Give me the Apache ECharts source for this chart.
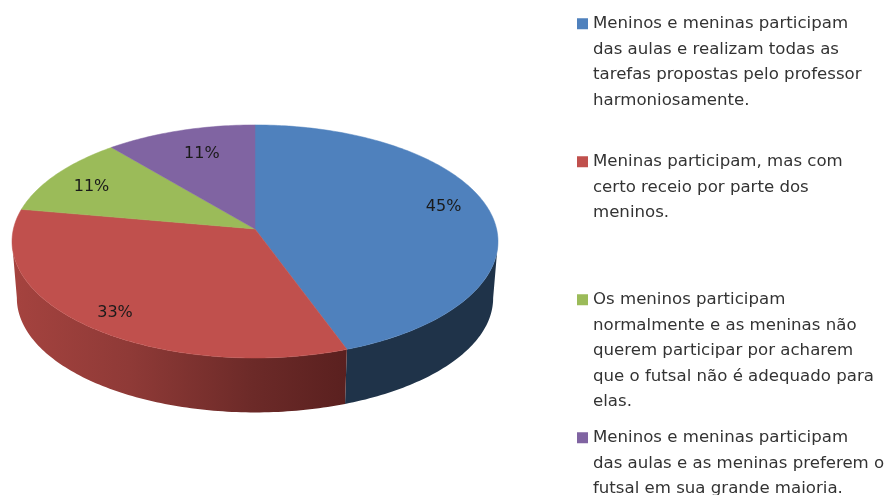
<!DOCTYPE html>
<html lang="pt-BR" style="height: 100%">
<head>
  <meta charset="utf-8">
</head>
<body style="height: 100%; margin: 0; background: #fff">
  <div id="container" style="height: 100%; filter: blur(0.4px)"></div>

  <script type="text/javascript" src="https://fastly.jsdelivr.net/npm/echarts@6/dist/echarts.min.js"></script>
  <script type="text/javascript">
    // data
    var sliceValues = [44.4, 33.3, 11.1, 11.1];
    var sliceLabels = ['45%', '33%', '11%', '11%'];
    var legendLines = [
      ['Meninos e meninas participam', 'das aulas e realizam todas as', 'tarefas propostas pelo professor', 'harmoniosamente.'],
      ['Meninas participam, mas com', 'certo receio por parte dos', 'meninos.'],
      ['Os meninos participam', 'normalmente e as meninas não', 'querem participar por acharem', 'que o futsal não é adequado para', 'elas.'],
      ['Meninos e meninas participam', 'das aulas e as meninas preferem o', 'futsal em sua grande maioria.']
    ];
    var sliceColors = ['#4f81bd', '#c0504d', '#9bbb59', '#8064a2'];
    var categories = legendLines.map(function (l) { return l.join(' '); });

    // pie geometry: tilted disc with a little perspective
    var cx = 255, cy = 229, rx = 241.6, ry = 115.2, persp = 0.107;
    var wallDrop = 57, wallScale = 0.98;
    var wallFrom = 96, wallTo = 264; // silhouette of the disc, in degrees clockwise from top
    var labelRadius = 0.8;
    var labelShift = [[1, -6], [-7, 8], [-3, 2], [8, 5]];

    var total = sliceValues.reduce(function (a, b) { return a + b; }, 0);

    function project(deg, r, scale, drop) {
      var a = deg * Math.PI / 180;
      var u = Math.sin(a) * r, v = -Math.cos(a) * r;
      var w = 1 - persp * v;
      return [cx + scale * rx * u / w, cy + drop + scale * ry * v / w];
    }

    function arc(from, to, scale, drop) {
      var pts = [];
      var n = Math.max(2, Math.ceil(Math.abs(to - from)));
      for (var i = 0; i <= n; i++) {
        pts.push(project(from + (to - from) * i / n, 1, scale, drop));
      }
      return pts;
    }

    function wallFill(i) {
      if (i === 0) {
        return '#1f3349';
      }
      return new echarts.graphic.LinearGradient(0, 0, 1, 0, [
        { offset: 0, color: '#a5433f' },
        { offset: 0.35, color: '#8f3a37' },
        { offset: 0.72, color: '#6c2a28' },
        { offset: 1, color: '#5a201f' }
      ]);
    }

    function sliceRenderer(i) {
      var before = sliceValues.slice(0, i).reduce(function (a, b) { return a + b; }, 0);
      var start = before / total * 360;
      var end = (before + sliceValues[i]) / total * 360;
      return function () {
        var children = [];
        var wa = Math.max(start, wallFrom), wb = Math.min(end, wallTo);
        if (wb > wa) {
          var topArc = arc(wa, wb, 1, 0);
          var lowArc = arc(wa, wb, wallScale, wallDrop).reverse();
          children.push({
            type: 'polygon',
            shape: { points: topArc.concat(lowArc) },
            style: { fill: wallFill(i) }
          });
        }
        children.push({
          type: 'polygon',
          shape: { points: [project(0, 0, 1, 0)].concat(arc(start, end, 1, 0)) },
          style: { fill: sliceColors[i], stroke: sliceColors[i], lineWidth: 0.5 }
        });
        var mid = project((start + end) / 2, labelRadius, 1, 0);
        children.push({
          type: 'text',
          x: mid[0] + labelShift[i][0],
          y: mid[1] + labelShift[i][1],
          style: {
            text: sliceLabels[i],
            fill: '#1a1a1a',
            font: '16px "DejaVu Sans"',
            align: 'center',
            verticalAlign: 'middle'
          }
        });
        return { type: 'group', children: children };
      };
    }

    var myChart = echarts.init(document.getElementById('container'), null, { renderer: 'canvas' });

    var rich = { ind: { width: 16, height: 10 }, gap: { width: 5, height: 11 } };
    sliceColors.forEach(function (c, i) {
      rich['sw' + i] = { width: 11, height: 11, backgroundColor: c };
    });

    var option = {
      animation: false,
      color: sliceColors,
      legend: categories.map(function (name, i) {
        return {
          data: [name],
          left: 567,
          top: 6 + i * 138,
          height: 600,
          icon: 'rect',
          itemWidth: 0,
          itemHeight: 0,
          selectedMode: false,
          textStyle: {
            fontFamily: 'DejaVu Sans',
            fontSize: 16.6,
            color: '#333333',
            lineHeight: 25.5,
            rich: rich
          },
          formatter: function () {
            return legendLines[i].map(function (line, k) {
              return (k === 0 ? '{sw' + i + '|}{gap|}' : '{ind|}') + line;
            }).join('\n');
          }
        };
      }),
      series: categories.map(function (name, i) {
        return {
          type: 'custom',
          name: name,
          coordinateSystem: 'none',
          silent: true,
          data: [sliceValues[i]],
          renderItem: sliceRenderer(i)
        };
      })
    };
    myChart.setOption(option);

    window.addEventListener('resize', myChart.resize);
  </script>
</body>
</html>
